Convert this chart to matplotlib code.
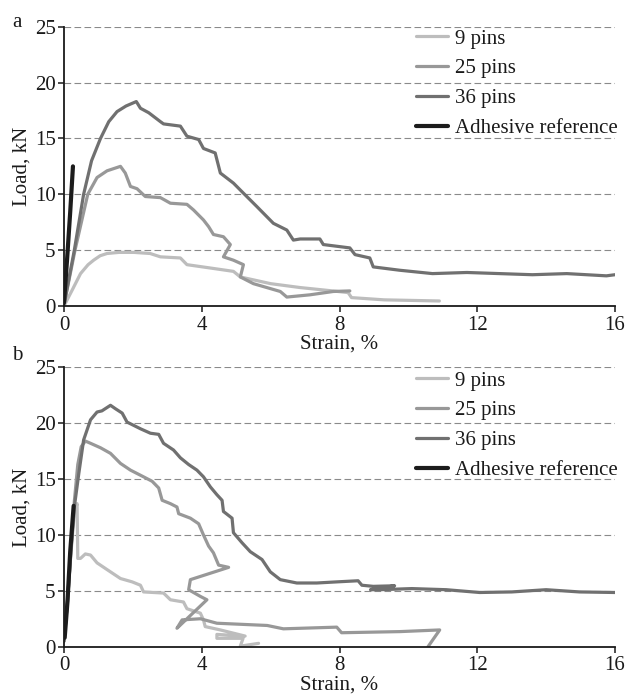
import matplotlib
matplotlib.use("Agg")
import matplotlib.pyplot as plt

# ---------------- data ----------------
legend_labels = ["9 pins", "25 pins", "36 pins", "Adhesive reference"]
x_ticks = [0, 4, 8, 12, 16]
y_ticks = [0, 5, 10, 15, 20, 25]

# panel a
a_9_x = [0, 0.25, 0.48, 0.7, 0.86, 1.05, 1.25, 1.6, 2.02, 2.5, 2.8, 3.38, 3.57, 4.25, 4.92, 5.12, 6.0, 6.86, 7.8, 8.25,
         8.35, 9.3, 10.9]
a_9_y = [0.0, 1.5, 2.9, 3.7, 4.1, 4.5, 4.7, 4.8, 4.8, 4.7, 4.4, 4.3, 3.7, 3.4, 3.1, 2.6, 2.0, 1.65, 1.35, 1.2,
         0.75, 0.55, 0.45]

a_25_x = [0, 0.32, 0.69, 0.96, 1.25, 1.64, 1.78, 1.93, 2.12, 2.36, 2.8, 3.09, 3.57, 3.76, 4.05, 4.2, 4.34, 4.63, 4.83,
          4.63, 4.92, 5.21, 5.12, 5.5, 6.28, 6.47, 7.14, 7.82, 8.3]
a_25_y = [0.1, 5.0, 10.0, 11.5, 12.1, 12.5, 11.9, 10.7, 10.5, 9.8, 9.7, 9.2, 9.1, 8.6, 7.7, 7.1, 6.4, 6.2, 5.5,
          4.4, 4.1, 3.7, 2.6, 2.0, 1.3, 0.8, 1.0, 1.3, 1.35]

a_36_x = [0, 0.3, 0.57, 0.8, 1.06, 1.3, 1.54, 1.8, 2.10, 2.22, 2.46, 2.80, 2.89, 3.38, 3.57, 3.91, 4.05, 4.39,
          4.54, 4.92, 5.21, 5.6, 6.08, 6.47, 6.66, 6.86, 7.43, 7.53, 8.3, 8.45, 8.88, 8.98, 9.75, 10.7, 11.7, 12.65,
          13.6, 14.6, 15.75, 16.0]
a_36_y = [0.1, 5.0, 10.0, 13.0, 15.0, 16.5, 17.4, 17.9, 18.3, 17.7, 17.3, 16.5, 16.3, 16.1, 15.2, 14.9, 14.1, 13.7,
          11.9, 11.0, 10.1, 8.9, 7.4, 6.8, 5.9, 6.0, 6.0, 5.5, 5.2, 4.6, 4.3, 3.5, 3.2, 2.9, 3.0, 2.9,
          2.8, 2.9, 2.7, 2.8]

a_adh_x = [0.0, 0.09, 0.18, 0.26]
a_adh_y = [0.3, 4.2, 8.4, 12.5]

# panel b
b_9_x = [0, 0.1, 0.2, 0.3, 0.38, 0.40, 0.48, 0.62, 0.77, 0.96, 1.25, 1.64, 1.98, 2.22, 2.31, 2.89, 3.09, 3.47, 3.57,
         3.96, 4.05, 4.1, 4.54, 5.26, 4.44, 4.44, 5.2, 5.12, 5.65]
b_9_y = [0.5, 4.0, 8.3, 12.0, 12.8, 7.9, 7.9, 8.3, 8.2, 7.5, 6.9, 6.1, 5.8, 5.5, 4.9, 4.8, 4.2, 4.0, 3.4,
         3.0, 2.4, 1.8, 1.5, 0.95, 1.1, 0.75, 0.75, 0.05, 0.3]

b_25_x = [0, 0.1, 0.2, 0.3, 0.4, 0.5, 0.62, 0.77, 1.06, 1.35, 1.64, 1.93, 2.31, 2.56, 2.75, 2.85, 3.09, 3.28, 3.33,
          3.67, 3.91, 4.05, 4.2, 4.34, 4.49, 4.78, 3.67, 3.62, 3.96, 4.15, 3.28, 3.43, 3.96, 4.44, 5.9, 6.37, 7.92,
          8.06, 9.75, 10.91, 10.57]
b_25_y = [0.5, 4.0, 8.5, 13.0, 16.3, 17.9, 18.4, 18.2, 17.8, 17.3, 16.4, 15.8, 15.2, 14.8, 14.2, 13.1, 12.8, 12.5, 11.9,
          11.5, 11.0, 10.0, 9.0, 8.4, 7.3, 7.1, 6.0, 5.1, 4.5, 4.2, 1.65, 2.4, 2.5, 2.1, 1.9, 1.6, 1.75,
          1.25, 1.35, 1.5, 0.0]

b_36_x = [0, 0.1, 0.2, 0.3, 0.43, 0.57, 0.77, 0.96, 1.1, 1.35, 1.49, 1.69, 1.83, 2.22, 2.51, 2.75, 2.89, 3.18, 3.38,
          3.62, 3.86, 4.05, 4.25, 4.44, 4.59, 4.63, 4.88, 4.92, 5.17, 5.41, 5.75, 5.99, 6.28, 6.76, 7.34, 7.92,
          8.54, 8.65, 8.98, 9.6, 8.9, 9.17, 10.1, 11.1, 12.07, 13.0, 14.0, 14.97, 16.0]
b_36_y = [0.5, 4.0, 8.5, 12.5, 15.5, 18.5, 20.3, 21.0, 21.1, 21.6, 21.3, 20.9, 20.1, 19.5, 19.1, 19.0, 18.2, 17.6, 16.9,
          16.3, 15.8, 15.2, 14.3, 13.6, 13.1, 12.1, 11.5, 10.2, 9.3, 8.5, 7.8, 6.7, 6.0, 5.7, 5.7, 5.8,
          5.9, 5.5, 5.4, 5.45, 5.1, 5.1, 5.2, 5.1, 4.85, 4.9, 5.1, 4.9, 4.85]

b_adh_x = [0.02, 0.1, 0.18, 0.28]
b_adh_y = [0.8, 4.0, 8.5, 12.6]

panels = [
    ("a", [(a_9_x, a_9_y), (a_25_x, a_25_y), (a_36_x, a_36_y), (a_adh_x, a_adh_y)]),
    ("b", [(b_9_x, b_9_y), (b_25_x, b_25_y), (b_36_x, b_36_y), (b_adh_x, b_adh_y)]),
]

# ---------------- style ----------------
plt.rcParams['font.family'] = ['Liberation Serif', 'DejaVu Serif']
FS = 15
colors = ["#bdbdbd", "#989898", "#707070", "#1c1c1c"]
widths = [2.3, 2.3, 2.3, 3.0]

W, H = 629, 696
fig = plt.figure(figsize=(W / 100, H / 100), dpi=100)

axes_px = [(64, 615, 26.7, 306), (64, 615, 367.3, 646.7)]  # left, right, top, bottom
legend_top_px = [29, 371]
label_base_px = [27, 360]

for (letter, series), (l, r, t, b), ltop, lbase in zip(panels, axes_px, legend_top_px, label_base_px):
    ax = fig.add_axes([l / W, 1 - b / H, (r - l) / W, (b - t) / H])
    for (xs, ys), c, lw, lab in zip(series, colors, widths, legend_labels):
        ax.plot(xs, ys, color=c, lw=lw, label=lab, solid_joinstyle='round', solid_capstyle='round')
    ax.set_xlim(0, 16)
    ax.set_ylim(0, 25)
    ax.set_xticks(x_ticks)
    ax.set_yticks(y_ticks)
    for yv in y_ticks[1:]:
        ax.axhline(yv, color="#8a8a8a", lw=0.8, ls=(0, (6, 3)), zorder=0)
    for s in ["top", "right"]:
        ax.spines[s].set_visible(False)
    for s in ["left", "bottom"]:
        ax.spines[s].set_linewidth(1.3)
        ax.spines[s].set_color("#1a1a1a")
    ax.tick_params(axis='both', direction='out', length=4, width=1.1, colors="#1a1a1a",
                   labelsize=FS, pad=2)
    ax.tick_params(axis='x', pad=3)
    ax.set_xlabel("Strain, %", fontsize=FS, color="#1a1a1a")
    ax.set_ylabel("Load, kN", fontsize=FS, color="#1a1a1a")
    ax.xaxis.set_label_coords(0.5, -0.102)
    ax.yaxis.set_label_coords(-0.058, 0.5)
    ax.set_facecolor("none")
    leg = ax.legend(loc="upper left", bbox_to_anchor=(416 / W, 1 - ltop / H),
                    bbox_transform=fig.transFigure, frameon=False, fontsize=FS,
                    handlelength=1.55, handletextpad=0.33, labelspacing=0.49,
                    borderpad=0, borderaxespad=0)
    for txt in leg.get_texts():
        txt.set_color("#1a1a1a")
    fig.text(12 / W, 1 - lbase / H, letter, fontsize=FS, va='baseline', ha='left', color="#1a1a1a")

fig.savefig("out.png", dpi=100)
